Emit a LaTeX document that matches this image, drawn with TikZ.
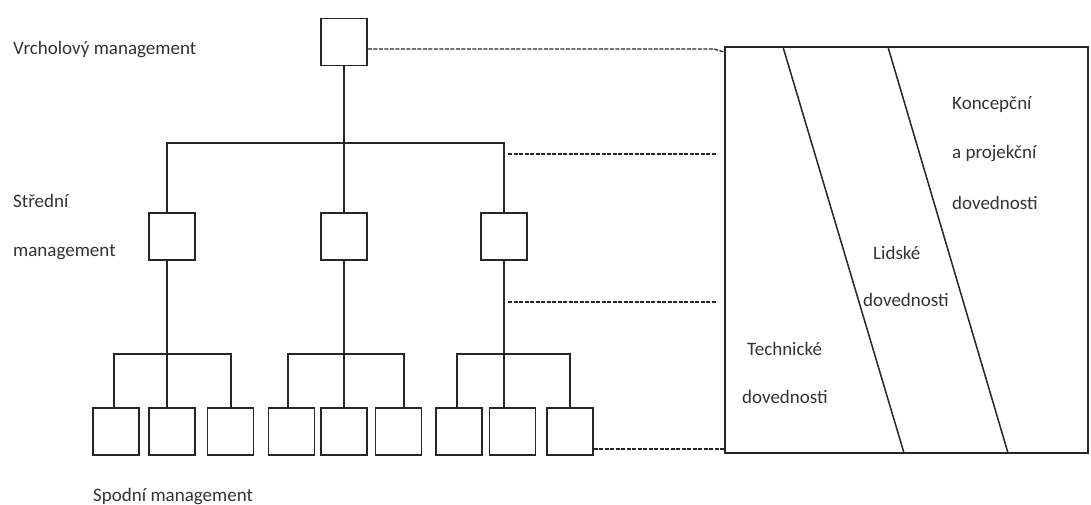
\documentclass[tikz,border=0pt]{standalone}
\usepackage{fontspec}
\setmainfont{Carlito}
\begin{document}
\begin{tikzpicture}[x=1pt,y=-1pt,
  box/.style={draw=black!85,line width=1.5pt,minimum width=46pt,minimum height=47pt,inner sep=0pt},
  ln/.style={draw=black!85,line width=1.5pt},
  dl/.style={draw=black!85,line width=1.3pt,dash pattern=on 4pt off 1.5pt},
  lbl/.style={font=\fontsize{19}{21}\selectfont,text=black!80,inner sep=0pt,anchor=west}]
\useasboundingbox (0,0) rectangle (1091,505);
% boxes
\node[box] (t) at (344,42) {};
\node[box] (m1) at (172,236.5) {};
\node[box] (m2) at (344,236.5) {};
\node[box] (m3) at (504,236.5) {};
\node[box] (b11) at (116,431.5) {};
\node[box] (b12) at (172,431.5) {};
\node[box] (b13) at (230.5,431.5) {};
\node[box] (b21) at (291.5,431.5) {};
\node[box] (b22) at (344,431.5) {};
\node[box] (b23) at (398.5,431.5) {};
\node[box] (b31) at (459,431.5) {};
\node[box] (b32) at (512.5,431.5) {};
\node[box] (b33) at (570,431.5) {};
% tree connectors
\coordinate (c1) at (167,143);
\coordinate (c2) at (344,143);
\coordinate (c3) at (504,143);
\draw[ln] (t.south) -- (c2);
\draw[ln] (c1 |- m1.north) -- (c1) -- (c3) -- (c3 |- m3.north);
\draw[ln] (c2) -- (c2 |- m2.north);
\coordinate (g1) at (167,354);
\coordinate (g2) at (344,354);
\coordinate (g3) at (504,354);
\draw[ln] (c1 |- m1.south) -- (g1 |- b12.north);
\draw[ln] (c2 |- m2.south) -- (g2 |- b22.north);
\draw[ln] (c3 |- m3.south) -- (g3 |- b32.north);
\draw[ln] (b11.north -| 114,0) -- (114,354) -- (231,354) -- (b13.north -| 231,0);
\draw[ln] (b21.north -| 288,0) -- (288,354) -- (404,354) -- (b23.north -| 404,0);
\draw[ln] (b31.north -| 457,0) -- (457,354) -- (570,354) -- (b33.north);
% skills rectangle
\node[draw=black!85,line width=1.5pt,minimum width=363pt,minimum height=406pt,inner sep=0pt] (R) at (906.5,250) {};
\coordinate (d1t) at (783,47);
\coordinate (d1b) at (904,453);
\coordinate (d2t) at (888,47);
\coordinate (d2b) at (1008,453);
\draw[ln] (d1t) -- (d1b);
\draw[ln] (d2t) -- (d2b);
% dashed connectors
\coordinate (e1) at (714,49);
\coordinate (e2) at (717,154);
\coordinate (e3) at (717,302);
\draw[dl] (t.east |- e1) -- (e1) -- (R.north west |- 0,52);
\draw[dl] (508,154) -- (e2);
\draw[dl] (508,302) -- (e3);
\draw[dl] (b33.east |- 0,449) -- (R.south west |- 0,449);
% labels
\node[lbl] (l1) at (13,50) {Vrcholový management};
\node[lbl] (l2) at (13,201) {Střední};
\node[lbl] (l3) at (13,252) {management};
\node[lbl] (l4) at (93,497) {Spodní management};
\node[lbl] (k1) at (952,105) {Koncepční};
\node[lbl] (k2) at (952,154) {a projekční};
\node[lbl] (k3) at (952,203) {dovednosti};
\node[lbl] (h1) at (873,253) {Lidské};
\node[lbl] (h2) at (863,300) {dovednosti};
\node[lbl] (s1) at (747,349) {Technické};
\node[lbl] (s2) at (742,397) {dovednosti};
\end{tikzpicture}
\end{document}
